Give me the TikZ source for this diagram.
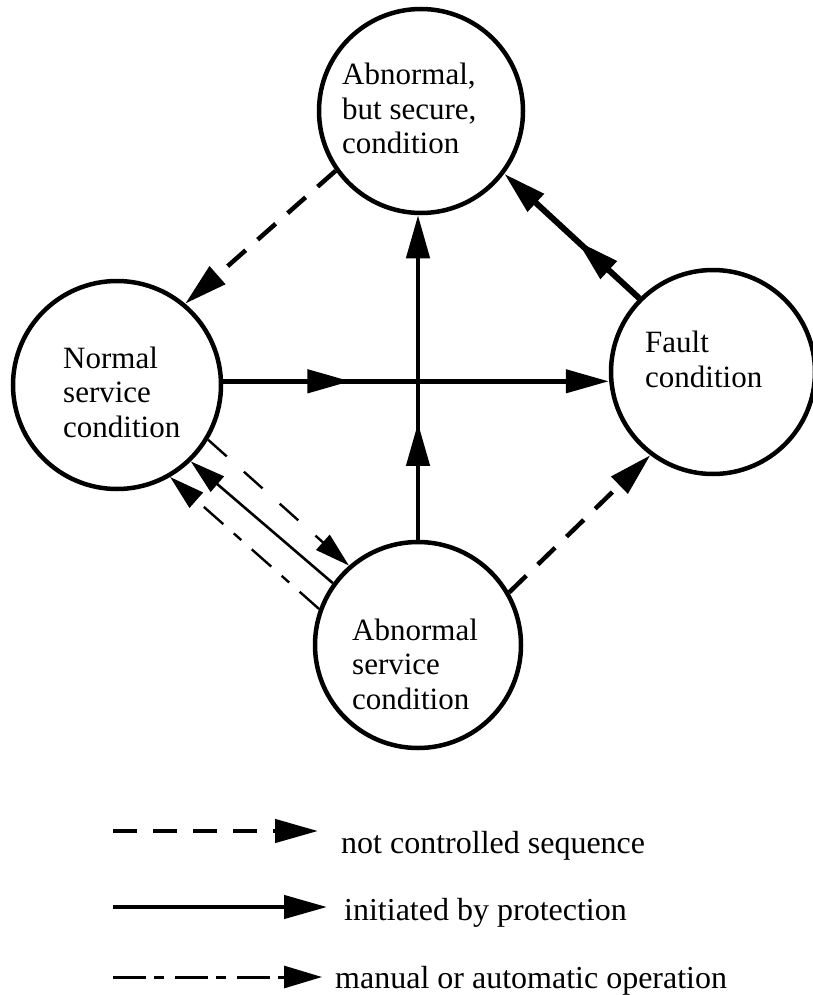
\documentclass[tikz,border=0pt]{standalone}
\usepackage{fontspec}
\setmainfont{Liberation Serif}
\usetikzlibrary{arrows.meta,decorations.markings,calc}
\tikzset{
  bigtip/.tip={Triangle[length=43pt,width=23pt]},
  smalltip/.tip={Triangle[length=35pt,width=20pt]},
}
\begin{document}
\begin{tikzpicture}[x=1pt,y=-1pt,
  state/.style={circle,draw,line width=4.5pt,inner sep=0pt,minimum size=#1},
  lbl/.style={align=left,anchor=base west,inner sep=0pt,font=\fontsize{31}{34.5}\selectfont},
  leg/.style={anchor=base west,inner sep=0pt,font=\fontsize{32}{36}\selectfont},
  prot/.style={line width=4.5pt,-bigtip},
  unctrl/.style={line width=4.5pt,dash pattern=on 24pt off 16pt,-bigtip},
  thindash/.style={line width=2.4pt,dash pattern=on 25pt off 23pt,-smalltip},
  thinsolid/.style={line width=2.6pt,-smalltip},
  manual/.style={line width=2.4pt,dash pattern=on 26pt off 14pt on 10pt off 14pt,-smalltip},
  legmanual/.style={line width=3pt,dash pattern=on 33pt off 8pt on 10pt off 11pt,-{Triangle[length=38pt,width=22pt]}},
  midarrow/.style={postaction={decorate},decoration={markings,mark=at position #1 with {\arrow{bigtip}}}},
]
\useasboundingbox (0,0) rectangle (812,995);

% states
\node[state=204pt] (sec) at (421,111) {};
\node[state=208pt] (normal) at (117,385) {};
\node[state=204pt] (fault) at (713,372) {};
\node[state=206pt] (abs) at (418,645) {};

% labels (anchored at the baseline of the last line)
\node[lbl] (secT) at (342,154) {Abnormal,\\but secure,\\condition};
\node[lbl] (normalT) at (63,437) {Normal\\service\\condition};
\node[lbl] (faultT) at (645,387) {Fault\\condition};
\node[lbl] (absT) at (352,709) {Abnormal\\service\\condition};

% connectors
\draw[unctrl] (sec.215) -- (normal.50);
\draw[prot, midarrow=0.33] (normal.2) -- (normal.2 -| fault.west);
\draw[prot, midarrow=0.36] (abs.north) -- (abs.north |- sec.south);
\draw[prot, line width=6pt, midarrow=0.46] (fault.135) -- (sec.323);
\draw[unctrl] (abs.30) -- (fault.233);
\draw[thindash] (normal.329) -- (abs.131);
\draw[thinsolid] (abs.144) -- (normal.314);
\draw[manual] (abs.160) -- (normal.300);

% legend
\coordinate (l1s) at (113,831); \coordinate (l1e) at (318,831);
\draw[unctrl] (l1s) -- (l1e);
\node[leg] (l1t) at (341,853) {not controlled sequence};
\coordinate (l2s) at (113,907); \coordinate (l2e) at (327,907);
\draw[prot] (l2s) -- (l2e);
\node[leg] (l2t) at (344,920) {initiated by protection};
\coordinate (l3s) at (113,977); \coordinate (l3e) at (322,977);
\draw[legmanual] (l3s) -- (l3e);
\node[leg] (l3t) at (335,988) {manual or automatic operation};
\end{tikzpicture}
\end{document}
